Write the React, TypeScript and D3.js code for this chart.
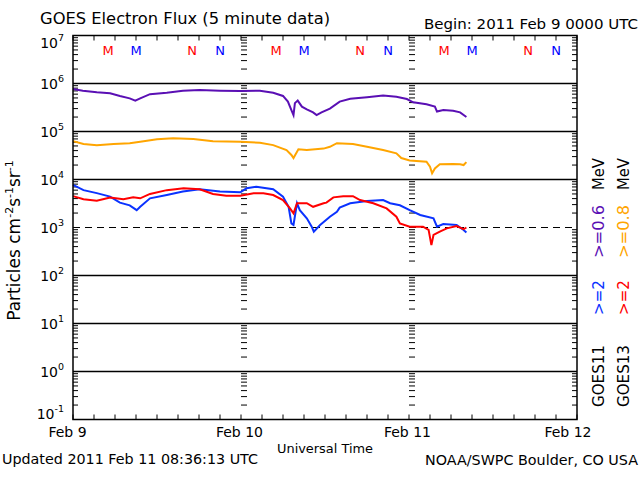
import React from "react";
import * as d3 from "d3";

// ---- Data (hours since 2011 Feb 9 00:00 UTC) ----
const dayLabels = ["Feb 9", "Feb 10", "Feb 11", "Feb 12"];
const dayLabelCenters = [67.5, 239.5, 407.5, 568]; // pixel centres
const decadeExps = [7, 6, 5, 4, 3, 2, 1, 0, -1];

// GOES11 >=0.6 MeV (purple)
const g11LowH = [0, 1.4, 3.4, 5.3, 6.7, 8.1, 8.9, 9.6, 11, 13.4, 15.7, 18.1, 21, 23.9, 26.7, 28.6, 30, 30.7, 31.2, 31.5, 31.7, 32.1, 32.7, 33.4, 34.3, 34.8, 35.5, 36.7, 38.1, 39.6, 42, 44.3, 46.2, 47.7, 48.6, 50.5, 51.7, 52, 52.9, 54.3, 55.3, 56.2];
const g11LowV = [7.7e5, 7.1e5, 6.6e5, 6.25e5, 5.5e5, 4.9e5, 4.4e5, 4.9e5, 6.0e5, 6.4e5, 7.1e5, 7.3e5, 7.1e5, 7.0e5, 7.1e5, 6.4e5, 5.5e5, 4.2e5, 2.8e5, 2.2e5, 3.9e5, 4.4e5, 3.3e5, 2.9e5, 2.5e5, 2.2e5, 2.5e5, 3.0e5, 4.2e5, 4.8e5, 5.2e5, 5.6e5, 5.3e5, 4.75e5, 4.05e5, 3.7e5, 3.3e5, 2.6e5, 2.8e5, 2.7e5, 2.5e5, 2.0e5];

// GOES13 >=0.8 MeV (orange)
const g13LowH = [0, 1.5, 3.4, 5.8, 8.1, 9.6, 12, 14.3, 17.2, 20, 23.9, 26.7, 28.6, 30.5, 31.2, 31.5, 32.2, 33.4, 35.8, 36.7, 37.7, 40, 42, 44.3, 46.2, 46.9, 48.1, 50.5, 51, 51.3, 51.7, 52.4, 54.3, 55.3, 55.8, 56.2];
const g13LowV = [6.3e4, 5.5e4, 5.2e4, 5.5e4, 5.7e4, 6.1e4, 6.9e4, 7.2e4, 7.0e4, 6.3e4, 6.1e4, 5.85e4, 5.2e4, 4.1e4, 3.25e4, 2.8e4, 4.25e4, 4.1e4, 4.4e4, 4.8e4, 5.7e4, 5.5e4, 4.8e4, 4.1e4, 3.5e4, 2.8e4, 2.5e4, 2.35e4, 1.85e4, 1.35e4, 1.7e4, 2.07e4, 2.1e4, 2.07e4, 2.0e4, 2.3e4];

// GOES11 >=2 MeV (blue)
const g11HighH = [0, 1.5, 3.4, 5.3, 6.7, 8.1, 9.1, 9.6, 11, 13.4, 15.7, 18.1, 21, 23.9, 24.8, 26.2, 28.6, 30, 30.8, 31.2, 31.5, 32, 32.4, 33.4, 34.1, 34.4, 35.3, 36.7, 37.7, 38.1, 39.6, 42, 44.3, 45.3, 46.7, 48.1, 49.6, 51.5, 52, 52.9, 54.8, 55.8, 56.2];
const g11HighV = [7.7e3, 6.0e3, 5.2e3, 4.4e3, 3.3e3, 2.9e3, 2.3e3, 2.7e3, 4.05e3, 4.75e3, 5.6e3, 6.25e3, 5.6e3, 5.4e3, 6.55e3, 7.1e3, 6.25e3, 4.4e3, 2.7e3, 1.22e3, 1.13e3, 3.2e3, 2.3e3, 1.55e3, 1.04e3, 8.2e2, 1.13e3, 1.68e3, 2.13e3, 2.6e3, 3.2e3, 3.56e3, 3.74e3, 3.2e3, 2.9e3, 2.3e3, 1.82e3, 1.55e3, 1.04e3, 1.18e3, 1.13e3, 8.9e2, 7.9e2];

// GOES13 >=2 MeV (red)
const g13HighH = [0, 1.5, 3.4, 5.3, 7.2, 8.6, 9.6, 11, 13.4, 15.8, 18.1, 20, 21.9, 23.9, 25.8, 27.2, 28.6, 30, 31, 31.5, 32, 33.4, 34.3, 35.8, 36.2, 37.2, 38.6, 40, 41, 42.9, 44.8, 46.2, 46.7, 48.1, 50, 50.8, 51.2, 51.5, 52.4, 53.4, 54.8, 55.8, 56.2];
const g13HighV = [4.5e3, 3.87e3, 3.6e3, 4.2e3, 3.87e3, 4.25e3, 4.05e3, 5.0e3, 6.0e3, 6.55e3, 6.25e3, 5.0e3, 4.6e3, 4.6e3, 5.15e3, 5.15e3, 4.75e3, 3.74e3, 2.5e3, 1.98e3, 3.2e3, 3.2e3, 2.7e3, 3.2e3, 3.3e3, 4.25e3, 4.5e3, 4.5e3, 3.74e3, 3.2e3, 2.5e3, 1.68e3, 1.22e3, 1.04e3, 1.04e3, 8.9e2, 4.3e2, 7.0e2, 8.2e2, 9.6e2, 1.07e3, 9.2e2, 1.0e3];

// Local midnight (M) / noon (N) markers
const markerLetters = ["M", "M", "N", "N"];
const markerHours = [5, 9, 17, 21];
const markerColors = ["#ff0000", "#0000ff", "#ff0000", "#0000ff"];

const FONT = "DejaVu Sans, sans-serif";

export default function App() {
  const x = d3.scaleLinear().domain([0, 72]).range([73, 577]);
  const y = d3.scaleLog().domain([1e-1, 1e7]).range([419.5, 35.5]);

  const line = d3
    .line<[number, number]>()
    .x((d) => x(d[0]))
    .y((d) => y(d[1]));

  const series = [
    { h: g11LowH, v: g11LowV, color: "#5a0fb4" },
    { h: g13LowH, v: g13LowV, color: "#ffa500" },
    { h: g11HighH, v: g11HighV, color: "#0a32ff" },
    { h: g13HighH, v: g13HighV, color: "#ff0000" },
  ];

  const minorVals: number[] = [];
  for (let e = -1; e <= 6; e++) for (let k = 2; k <= 9; k++) minorVals.push(k * Math.pow(10, e));

  const hourTicks = d3.range(0, 73, 3);
  const left = x(0), right = x(72), top = y(1e7), bottom = y(1e-1);

  return (
    <svg width={640} height={480} style={{ position: "absolute", left: 0, top: 0, background: "#fff" }} fontFamily={FONT}>
      <rect x={0} y={0} width={640} height={480} fill="#fff" />
      {/* titles */}
      <text x={40} y={24} fontSize={16} textLength={290} lengthAdjust="spacingAndGlyphs">GOES Electron Flux (5 minute data)</text>
      <text x={424} y={29} fontSize={14} textLength={214} lengthAdjust="spacingAndGlyphs">Begin: 2011 Feb 9 0000 UTC</text>

      {/* decade lines */}
      {[1e6, 1e5, 1e4, 1e2, 1e1, 1e0].map((v) => (
        <line key={v} x1={left} x2={right} y1={y(v)} y2={y(v)} stroke="#000" strokeWidth={1.5} />
      ))}
      <line x1={left} x2={right} y1={y(1e3)} y2={y(1e3)} stroke="#000" strokeWidth={1.2} strokeDasharray="7,5" />

      {/* minor ticks left / right / day boundaries */}
      {minorVals.map((v, i) => (
        <g key={i} stroke="#000" strokeWidth={1}>
          <line x1={left} x2={left + 5} y1={y(v)} y2={y(v)} />
          <line x1={right} x2={right - 5} y1={y(v)} y2={y(v)} />
          <line x1={x(24)} x2={x(24) + 6} y1={y(v)} y2={y(v)} />
          <line x1={x(48)} x2={x(48) + 6} y1={y(v)} y2={y(v)} />
        </g>
      ))}
      {/* hour ticks */}
      {hourTicks.map((h) => (
        <g key={h} stroke="#000" strokeWidth={1}>
          <line x1={x(h)} x2={x(h)} y1={bottom} y2={bottom - 5} />
          <line x1={x(h)} x2={x(h)} y1={top} y2={top + 5} />
        </g>
      ))}

      {/* data */}
      {series.map((s, i) => (
        <path key={i} d={line(s.h.map((h, j) => [h, s.v[j]] as [number, number])) || ""} fill="none" stroke={s.color} strokeWidth={2} strokeLinejoin="miter" />
      ))}

      {/* frame */}
      <rect x={left} y={top} width={right - left} height={bottom - top} fill="none" stroke="#000" strokeWidth={1.5} />

      {/* M/N markers */}
      {[0, 24, 48].map((d) =>
        markerLetters.map((m, i) => (
          <text key={`${d}-${i}`} x={x(d + markerHours[i])} y={55} fontSize={13} textAnchor="middle" fill={markerColors[i]}>{m}</text>
        ))
      )}

      {/* y tick labels */}
      {decadeExps.map((e) => {
        let base = y(Math.pow(10, e)) + 5.5;
        if (e === 7) base = 48;
        if (e === -1) base = 419;
        return (
          <text key={e} x={64} y={base} textAnchor="end">
            <tspan fontSize={14}>10</tspan>
            <tspan fontSize={9.5} dy={-7}>{e < 0 ? "-" + Math.abs(e) : String(e)}</tspan>
          </text>
        );
      })}

      {/* y axis title */}
      <text transform="translate(19.5,240.5) rotate(-90)" textAnchor="middle" fontSize={17}>
        Particles cm<tspan fontSize={11} dy={-7}>-2</tspan><tspan dy={7}>s</tspan><tspan fontSize={11} dy={-7}>-1</tspan><tspan dy={7}>sr</tspan><tspan fontSize={11} dy={-7}>-1</tspan>
      </text>

      {/* x labels */}
      {dayLabels.map((l, i) => (
        <text key={l} x={dayLabelCenters[i]} y={437} fontSize={14} textAnchor="middle">{l}</text>
      ))}
      <text x={325} y={453} fontSize={13} textAnchor="middle" textLength={96} lengthAdjust="spacingAndGlyphs">Universal Time</text>
      <text x={2} y={464} fontSize={14} textLength={256} lengthAdjust="spacingAndGlyphs">Updated 2011 Feb 11 08:36:13 UTC</text>
      <text x={425} y={465} fontSize={14} textLength={213} lengthAdjust="spacingAndGlyphs">NOAA/SWPC Boulder, CO USA</text>

      {/* right-hand legend (rotated) */}
      {[
        { bx: 604, items: [["GOES11", "#000"], [">=2", "#0a32ff"], [">=0.6", "#5a0fb4"], ["MeV", "#000"]] },
        { bx: 628.5, items: [["GOES13", "#000"], [">=2", "#ff0000"], [">=0.8", "#ffa500"], ["MeV", "#000"]] },
      ].map((col, ci) => {
        const starts = [407, 315, 258, 190];
        const lens = [62, 35, 53, 32];
        return (
          <g key={ci}>
            {col.items.map((it, k) => (
              <text key={k} transform={`translate(${col.bx},${starts[k]}) rotate(-90)`} fontSize={15} fill={it[1]} textLength={lens[k]} lengthAdjust="spacingAndGlyphs">{it[0]}</text>
            ))}
          </g>
        );
      })}
    </svg>
  );
}
